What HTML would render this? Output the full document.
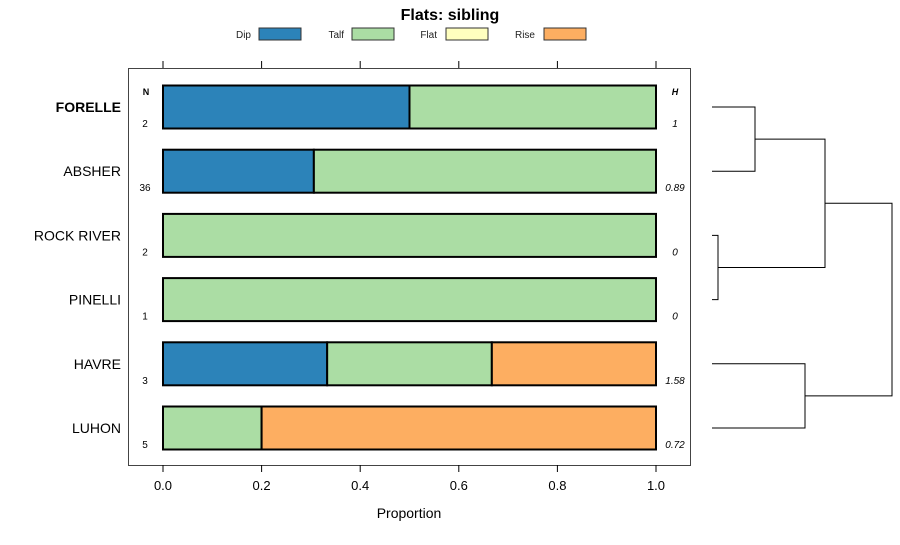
<!DOCTYPE html>
<html><head><meta charset="utf-8"><style>
body{margin:0;background:#fff;font-family:"Liberation Sans",sans-serif}
</style></head><body>
<svg id="c" width="900" height="540" xmlns="http://www.w3.org/2000/svg" font-family="Liberation Sans, sans-serif"></svg>
<script>
const categories=["FORELLE","ABSHER","ROCK RIVER","PINELLI","HAVRE","LUHON"];
const seriesNames=["Dip","Talf","Flat","Rise"];
const dip=[0.5,0.306,0,0,0.333,0];
const talf=[0.5,0.694,1,1,0.334,0.2];
const flat=[0,0,0,0,0,0];
const rise=[0,0,0,0,0.333,0.8];
const nVals=["2","36","2","1","3","5"];
const hVals=["1","0.89","0","0","1.58","0.72"];
const ticks=[0,0.2,0.4,0.6,0.8,1.0];
const tickLabels=["0.0","0.2","0.4","0.6","0.8","1.0"];
const colors=["#2c83b9","#abdda4","#ffffbf","#fdae61"];
const svg=document.getElementById('c');const NS="http://www.w3.org/2000/svg";
function mk(t,a,p){const e=document.createElementNS(NS,t);for(const k in a)e.setAttribute(k,a[k]);(p||svg).appendChild(e);return e;}
const x=v=>163+v*493;const y=i=>107+i*64.2;
mk('rect',{x:128.5,y:68.5,width:562,height:397,fill:'none',stroke:'#444'});
const series=[dip,talf,flat,rise];
categories.forEach((c,i)=>{
 let acc=0;
 series.forEach((s,k)=>{if(s[i]>0){const r=mk('rect',{x:x(acc),y:y(i)-21.5,width:x(acc+s[i])-x(acc),height:43,fill:colors[k],stroke:'#000','stroke-width':2});
 acc+=s[i];}});
 const t=mk('text',{x:121,y:y(i)+5,'text-anchor':'end','font-size':14,'font-weight':i==0?'bold':'normal',fill:'#000'});t.textContent=c;
 
 const n=mk('text',{x:145,y:y(i)+20,'text-anchor':'middle','font-size':10});n.textContent=nVals[i];
 
 const h=mk('text',{x:675,y:y(i)+20,'text-anchor':'middle','font-size':10,'font-style':'italic'});h.textContent=hVals[i];
 
});
let t=mk('text',{x:146,y:95,'text-anchor':'middle','font-size':9,'font-weight':'bold'});t.textContent='N';
t=mk('text',{x:675,y:95,'text-anchor':'middle','font-size':9,'font-weight':'bold','font-style':'italic'});t.textContent='H';
ticks.forEach((v,i)=>{
 mk('line',{x1:x(v),x2:x(v),y1:465,y2:472,stroke:'#000'});
 mk('line',{x1:x(v),x2:x(v),y1:61,y2:68,stroke:'#000'});
 const l=mk('text',{x:x(v),y:490,'text-anchor':'middle','font-size':13});l.textContent=tickLabels[i];
 
});
t=mk('text',{x:409,y:518,'text-anchor':'middle','font-size':14});t.textContent='Proportion';
t=mk('text',{x:450,y:20,'text-anchor':'middle','font-size':16,'font-weight':'bold'});t.textContent='Flats: sibling';
const lx=[[251,259],[343,456],[437,549],[535,643]];
const legTextX=[251,344,437,535],legBoxX=[259,352,446,544];
seriesNames.forEach((s,k)=>{
 const lt=mk('text',{x:legTextX[k],y:38,'text-anchor':'end','font-size':10,fill:'#222'});lt.textContent=s;
 
 const r=mk('rect',{x:legBoxX[k],y:28,width:42,height:12,fill:colors[k],stroke:'#333','stroke-width':1});
 
});
const g=mk('g',{stroke:'#000',fill:'none','stroke-width':1});
function u(x0,ya,yb,xm,xa,xb){mk('path',{d:`M${xa} ${ya}H${xm}V${yb}H${xb}`},g);}
u(0,y(0),y(1),755,712,712);
u(0,y(2),y(3),718,712,712);
const m1=(y(0)+y(1))/2,m2=(y(2)+y(3))/2,m3=(y(4)+y(5))/2;
u(0,y(4),y(5),805,712,712);
u(0,m1,m2,825,755,718);
const m12=(m1+m2)/2;
u(0,m12,m3,892,825,805);
</script>
</body></html>
